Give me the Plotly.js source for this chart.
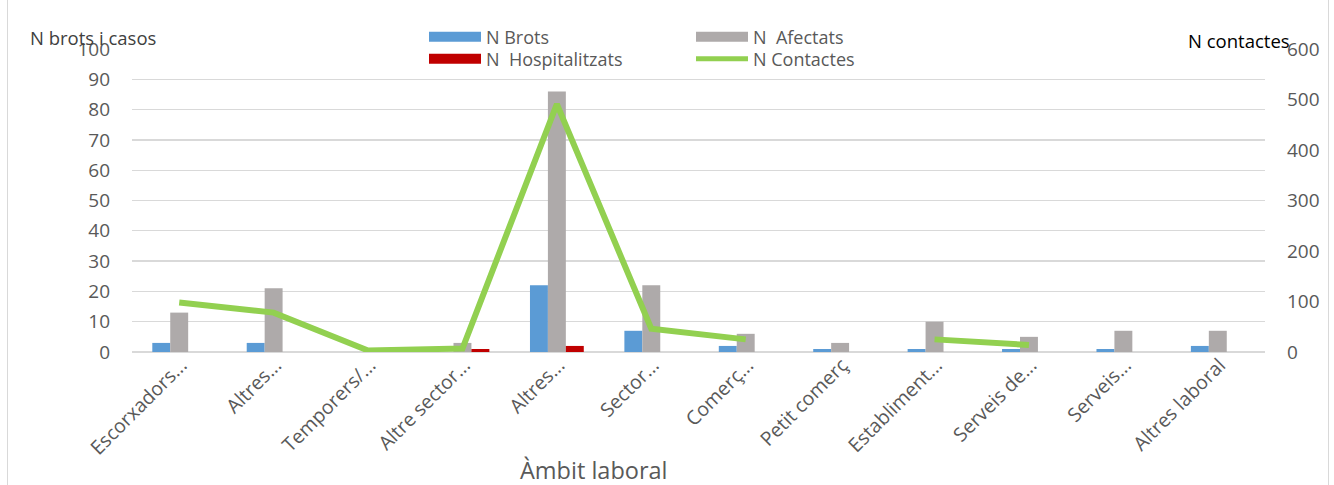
<!DOCTYPE html>
<html>
<head>
<meta charset="utf-8">
<script src="https://cdn.plot.ly/plotly-3.0.1.min.js"></script>
<style>
html,body{margin:0;padding:0;background:#fff;}
#chart{width:1334px;height:485px;}
</style>
</head>
<body>
<div id="chart"></div>
<script>
const categories = ["Escorxadors...", "Altres...", "Temporers/...", "Altre sector...", "Altres...", "Sector...",
  "Comerç...", "Petit comerç", "Establiment...", "Serveis de...", "Serveis...", "Altres laboral"];
// unique keys so repeated labels stay separate categories
const catKeys = categories.map((c, i) => i);
const nBrots = [3, 3, 0, 0, 22, 7, 2, 1, 1, 1, 1, 2];
const nAfectats = [13, 21, 0, 3, 86, 22, 6, 3, 10, 5, 7, 7];
const nHospitalitzats = [0, 0, 0, 1, 2, 0, 0, 0, 0, 0, 0, 0];
const nContactes = [98, 78, 3, 7, 491, 46, 25, null, 25, 14, null, null];
const leftTicks = [0, 10, 20, 30, 40, 50, 60, 70, 80, 90, 100];
const rightTicks = [0, 100, 200, 300, 400, 500, 600];

const cBlue = "#5B9BD5", cGray = "#AEAAAA", cRed = "#C00000", cGreen = "#92D050";
const FONT = "Open Sans, sans-serif";

const traces = [
  {type: "bar", x: catKeys, y: nBrots, name: "N Brots", marker: {color: cBlue}, showlegend: false, hoverinfo: "y"},
  {type: "bar", x: catKeys, y: nAfectats, name: "N  Afectats", marker: {color: cGray}, showlegend: false, hoverinfo: "y"},
  {type: "bar", x: catKeys, y: nHospitalitzats, name: "N  Hospitalitzats", marker: {color: cRed}, showlegend: false, hoverinfo: "y"},
  {type: "scatter", mode: "lines", x: catKeys, y: nContactes, yaxis: "y2", name: "N Contactes",
   line: {color: cGreen, width: 6}, connectgaps: false, showlegend: false, hoverinfo: "y"},
  // legend entries (Excel-like wide swatches)
  {type: "scatter", mode: "lines", x: [null], y: [null], name: "N Brots", line: {color: cBlue, width: 10}, legend: "legend"},
  {type: "scatter", mode: "lines", x: [null], y: [null], name: "N  Afectats", line: {color: cGray, width: 10}, legend: "legend"},
  {type: "scatter", mode: "lines", x: [null], y: [null], name: "N  Hospitalitzats", line: {color: cRed, width: 10}, legend: "legend2"},
  {type: "scatter", mode: "lines", x: [null], y: [null], name: "N Contactes", line: {color: cGreen, width: 5}, legend: "legend2"}
];

const L = 132, R = 69, T = 49, B = 133;
const W = 1334 - L - R, H = 485 - T - B;
const px = v => (v - L) / W;
const py = v => 1 - (v - T) / H;

const legendBase = {
  orientation: "h", xanchor: "left", yanchor: "middle",
  font: {family: FONT, size: 18, color: "#595959"},
  bgcolor: "rgba(0,0,0,0)", itemwidth: 52, entrywidth: 200, entrywidthmode: "pixels",
  traceorder: "normal", itemclick: false
};

const layout = {
  width: 1334, height: 485,
  margin: {l: L, r: R, t: T, b: B},
  paper_bgcolor: "#ffffff", plot_bgcolor: "#ffffff",
  font: {family: FONT, color: "#595959"},
  barmode: "group", bargap: 0.43, bargroupgap: 0,
  xaxis: {
    type: "category", tickmode: "array", tickvals: catKeys, ticktext: categories,
    tickangle: -45, tickfont: {family: FONT, size: 19.5, color: "#595959"},
    ticklabelshift: 2, ticklabelstandoff: -3,
    showgrid: false, zeroline: false, showline: false, ticks: "", automargin: false
  },
  yaxis: {
    range: [0, 100], tickmode: "array", tickvals: leftTicks,
    tickfont: {family: FONT, size: 19, color: "#595959"},
    showgrid: true, gridcolor: "#D9D9D9", gridwidth: 1.3, zeroline: true, zerolinecolor: "#D9D9D9", zerolinewidth: 1.3,
    showline: false, ticks: "", ticklabelstandoff: 21, automargin: false, fixedrange: true
  },
  yaxis2: {
    range: [0, 600], tickmode: "array", tickvals: rightTicks, overlaying: "y", side: "right",
    tickfont: {family: FONT, size: 19, color: "#595959"},
    showgrid: false, zeroline: false, showline: false, ticks: "", ticklabelstandoff: 21, automargin: false, fixedrange: true
  },
  legend: Object.assign({}, legendBase, {x: px(424), y: py(37)}),
  legend2: Object.assign({}, legendBase, {x: px(424), y: py(59)}),
  annotations: [
    {text: "N brots i casos", xref: "paper", yref: "paper", x: px(28), y: py(38), xanchor: "left", yanchor: "middle",
     showarrow: false, font: {family: FONT, size: 18.5, color: "#404040"}},
    {text: "N contactes", xref: "paper", yref: "paper", x: px(1186), y: py(41), xanchor: "left", yanchor: "middle",
     showarrow: false, font: {family: FONT, size: 18.5, color: "#000000"}},
    {text: "Àmbit laboral", xref: "paper", yref: "paper", x: px(594), y: py(470), xanchor: "center", yanchor: "middle",
     showarrow: false, font: {family: FONT, size: 23.5, color: "#595959"}}
  ],
  shapes: [
    {type: "line", xref: "paper", yref: "paper", x0: px(7.5), x1: px(7.5), y0: py(0), y1: py(485), line: {color: "#D9D9D9", width: 1}},
    {type: "line", xref: "paper", yref: "paper", x0: px(1328.5), x1: px(1328.5), y0: py(0), y1: py(485), line: {color: "#D9D9D9", width: 1}}
  ],
  hovermode: false
};

Plotly.newPlot("chart", traces, layout, {displayModeBar: false, staticPlot: true});
</script>
</body>
</html>
